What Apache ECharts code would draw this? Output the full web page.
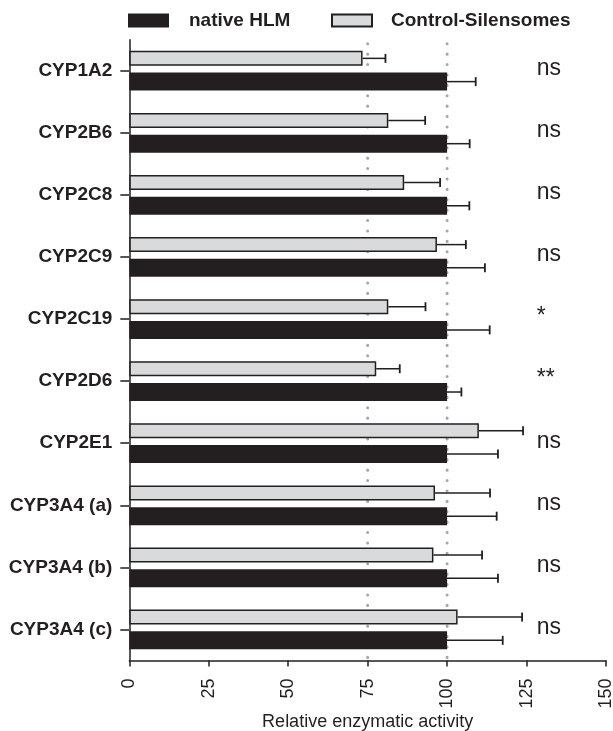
<!DOCTYPE html>
<html><head><meta charset="utf-8">
<script src="https://cdn.jsdelivr.net/npm/echarts@6/dist/echarts.min.js"></script>
<style>html,body{margin:0;padding:0;background:#fff}#c{width:613px;height:731px}</style>
</head><body><div id="c"></div>
<script>
const categories = ['CYP1A2','CYP2B6','CYP2C8','CYP2C9','CYP2C19','CYP2D6','CYP2E1','CYP3A4 (a)','CYP3A4 (b)','CYP3A4 (c)'];
const nativeHLM = [100,100,100,100,100,100,100,100,100,100];
const nativeHLMErr = [9,7.1,7,11.9,13.4,4.5,16,15.6,16,17.5];
const silensomes = [73.4,81.5,86.5,96.8,81.5,77.7,110,96.2,95.7,103.3];
const silensomesErr = [7.2,11.6,11.3,9.1,11.7,7.4,13.9,17.3,15.3,20.3];
const significance = ['ns','ns','ns','ns','*','**','ns','ns','ns','ns'];
const xTickLabels = ['0','25','50','75','100','125','150'];
const refLines = [75,100];
const annotationX = 128.2;

const INK = '#231f20';
const FONT = 'Liberation Sans, Arial, sans-serif';
const lightW = 15, darkW = 18, gapPct = 0.45;
const widthSum = lightW * (1 + gapPct) + darkW;
const lightCenter = -widthSum / 2 + lightW / 2;
const darkCenter = -widthSum / 2 + lightW * (1 + gapPct) + darkW / 2;

function errRender(offset) {
  return function (params, api) {
    const v = api.value(0), e = api.value(1), idx = api.value(2);
    const a = api.coord([v, idx]);
    const b = api.coord([v + e, idx]);
    const y = a[1] + offset;
    return {
      type: 'group',
      children: [
        {type: 'line', shape: {x1: a[0], y1: y, x2: b[0], y2: y}, style: {stroke: INK, lineWidth: 1.5}},
        {type: 'line', shape: {x1: b[0], y1: y - 4.5, x2: b[0], y2: y + 4.5}, style: {stroke: INK, lineWidth: 1.8}}
      ]
    };
  };
}

const chart = echarts.init(document.getElementById('c'), null, {renderer: 'canvas'});
chart.setOption({
  animation: false,
  backgroundColor: '#fff',
  grid: {left: 129.3, right: 7, top: 39.7, bottom: 70.5, containLabel: false, outerBoundsMode: 'none'},
  legend: [
    {data: ['native HLM'], left: 128, top: 11, padding: 0, itemWidth: 41, itemHeight: 14, icon: 'rect', selectedMode: false,
     textStyle: {fontSize: 19, fontWeight: 'bold', color: INK, fontFamily: FONT, padding: [0, 0, 0, 15]}},
    {data: ['Control-Silensomes'], left: 331, top: 11, padding: 0, itemWidth: 40, itemHeight: 12, icon: 'rect', selectedMode: false,
     textStyle: {fontSize: 19, fontWeight: 'bold', color: INK, fontFamily: FONT, padding: [0, 0, 0, 14]}}
  ],
  xAxis: {
    type: 'value', min: 0, max: 150, interval: 25,
    axisLine: {show: true, lineStyle: {color: INK, width: 1.5}},
    axisTick: {show: true, length: 6, lineStyle: {color: INK, width: 1.5}},
    splitLine: {show: false},
    axisLabel: {rotate: 90, fontSize: 18, color: INK, fontFamily: FONT, margin: 18,
      formatter: function (v) { return xTickLabels[Math.round(v / 25)]; }},
    name: 'Relative enzymatic activity', nameLocation: 'middle', nameGap: 53, nameMoveOverlap: false,
    nameTextStyle: {fontSize: 18, color: INK, fontFamily: FONT}
  },
  yAxis: {
    type: 'category', data: categories, inverse: true,
    axisLine: {show: true, lineStyle: {color: INK, width: 1.5}},
    axisTick: {show: true, alignWithLabel: true, length: 9, lineStyle: {color: INK, width: 1.5}},
    axisLabel: {fontSize: 19, fontWeight: 'bold', color: INK, fontFamily: FONT, margin: 17}
  },
  series: [
    {
      type: 'custom', z: 1, silent: true,
      data: refLines.map(function (v) { return [v]; }),
      encode: {x: 0},
      renderItem: function (params, api) {
        const cs = params.coordSys;
        const p = api.coord([api.value(0), 0]);
        return {type: 'line', shape: {x1: p[0], y1: cs.y + 4, x2: p[0], y2: cs.y + cs.height},
          style: {stroke: '#a6a6a6', lineWidth: 3, lineDash: [0.1, 10.3], lineCap: 'round'}};
      }
    },
    {name: 'Control-Silensomes', type: 'bar', z: 2, data: silensomes, barWidth: lightW, barGap: (gapPct * 100) + '%',
     itemStyle: {color: '#d9dadb', borderColor: INK, borderWidth: 1.5}},
    {name: 'native HLM', type: 'bar', z: 2, data: nativeHLM, barWidth: darkW, barGap: (gapPct * 100) + '%',
     itemStyle: {color: INK}},
    {type: 'custom', z: 3, silent: true, encode: {x: 0, y: 2},
     data: silensomes.map(function (v, i) { return [v, silensomesErr[i], i]; }),
     renderItem: errRender(lightCenter)},
    {type: 'custom', z: 3, silent: true, encode: {x: 0, y: 2},
     data: nativeHLM.map(function (v, i) { return [v, nativeHLMErr[i], i]; }),
     renderItem: errRender(darkCenter)},
    {type: 'custom', z: 3, silent: true, encode: {x: 0, y: 1},
     data: significance.map(function (s, i) { return [annotationX, i]; }),
     renderItem: function (params, api) {
       const p = api.coord([api.value(0), api.value(1)]);
       return {type: 'text', x: p[0], y: p[1] - 2,
         style: {text: significance[params.dataIndex], fontSize: 23, fontFamily: FONT, fill: INK,
           textAlign: 'left', textVerticalAlign: 'middle'}};
     }}
  ]
});
</script></body></html>
